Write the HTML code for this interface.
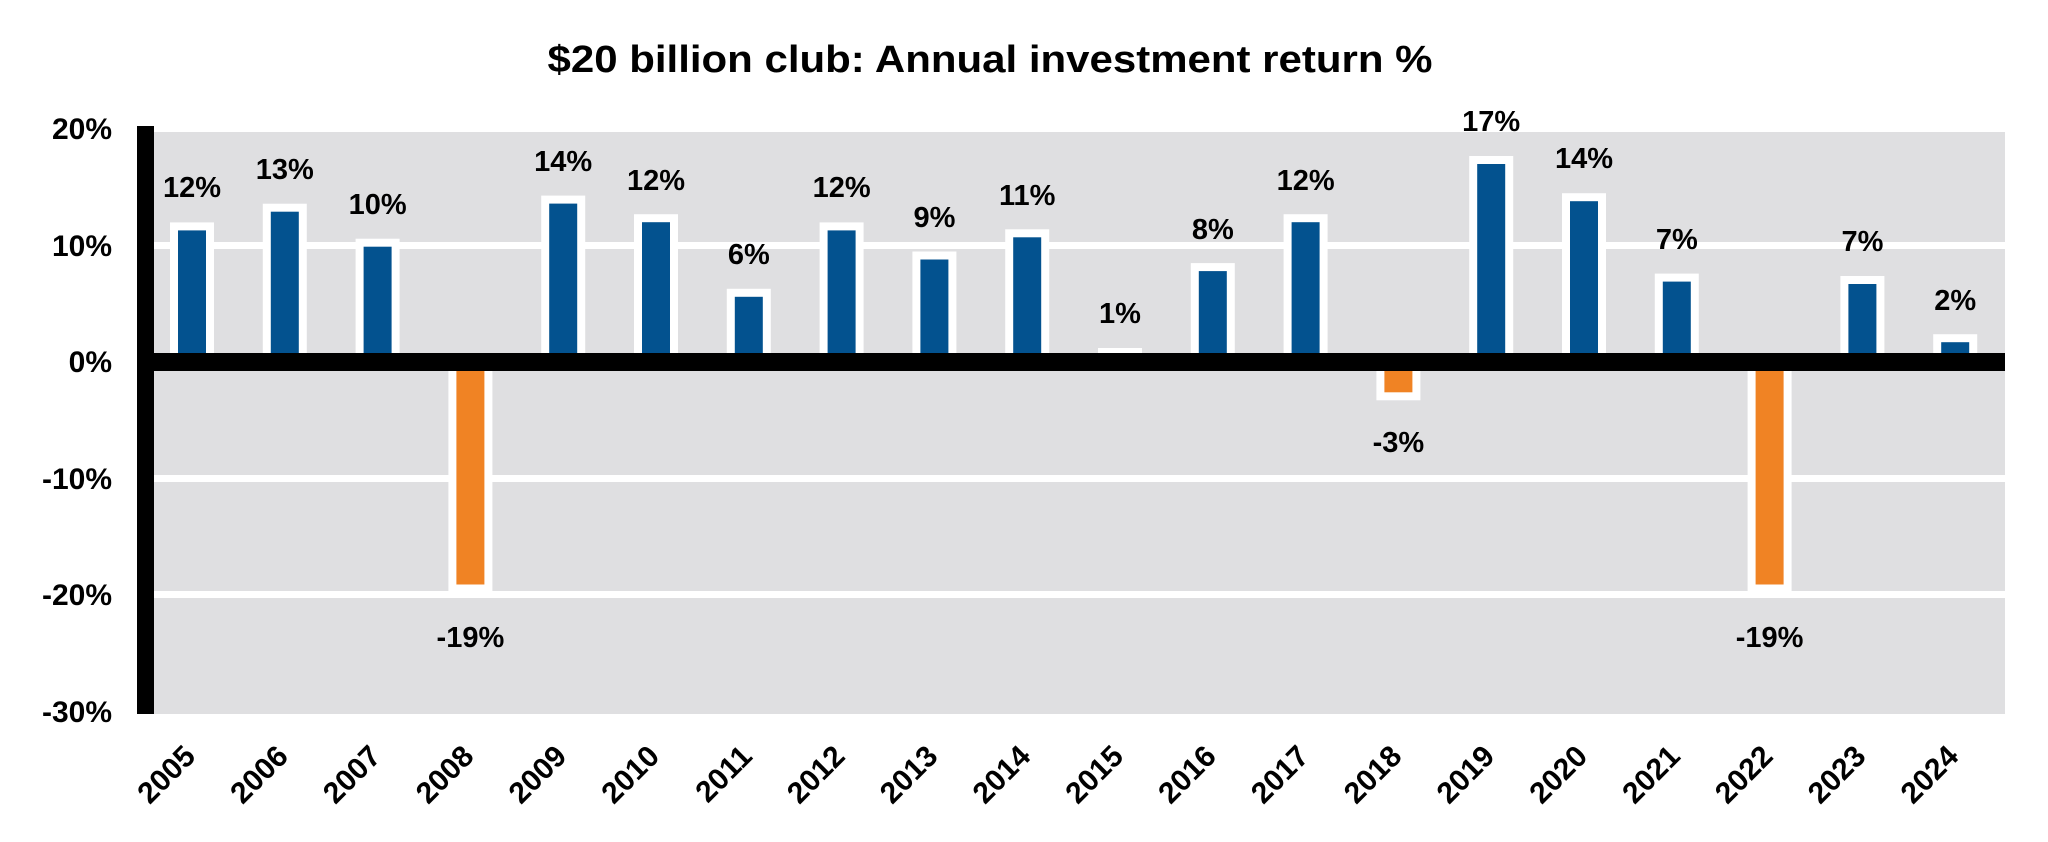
<!DOCTYPE html>
<html><head><meta charset="utf-8"><style>html,body{margin:0;padding:0;background:#fff}svg{display:block}</style></head><body>
<svg width="2048" height="842" viewBox="0 0 2048 842" xmlns="http://www.w3.org/2000/svg" font-family="Liberation Sans, Arial, sans-serif" font-weight="bold">
<text x="990" y="72" text-anchor="middle" font-size="38" textLength="885" lengthAdjust="spacingAndGlyphs" fill="#000">$20 billion club: Annual investment return %</text>
<rect x="154" y="130" width="1851" height="584" fill="#dfdfe1"/>
<g fill="#fff">
<rect x="154" y="126" width="1851" height="6"/>
<rect x="154" y="242" width="1851" height="7"/>
<rect x="154" y="475" width="1851" height="7"/>
<rect x="154" y="591" width="1851" height="7"/>
</g>
<g fill="#fff">
<rect x="170" y="222.4" width="44" height="140"/>
<rect x="262.8" y="203.7" width="44" height="159"/>
<rect x="355.6" y="238.7" width="44" height="124"/>
<rect x="541.2" y="195.6" width="44" height="167"/>
<rect x="634" y="214.2" width="44" height="148"/>
<rect x="726.8" y="288.8" width="44" height="74"/>
<rect x="819.6" y="222.4" width="44" height="140"/>
<rect x="912.4" y="251.5" width="44" height="111"/>
<rect x="1005.2" y="229.3" width="44" height="133"/>
<rect x="1098" y="348" width="44" height="14"/>
<rect x="1190.8" y="263.1" width="44" height="99"/>
<rect x="1283.6" y="214.2" width="44" height="148"/>
<rect x="1469.2" y="156" width="44" height="206"/>
<rect x="1562" y="193.2" width="44" height="169"/>
<rect x="1654.8" y="273.6" width="44" height="89"/>
<rect x="1840.4" y="276" width="44" height="86"/>
<rect x="1933.2" y="334.2" width="44" height="28"/>
<rect x="448.4" y="362" width="44" height="230.5"/>
<rect x="1376.4" y="362" width="44" height="38.3"/>
<rect x="1747.6" y="362" width="44" height="230.5"/>
</g>
<g fill="#03528f">
<rect x="178" y="230.4" width="28" height="132"/>
<rect x="270.8" y="211.7" width="28" height="151"/>
<rect x="363.6" y="246.7" width="28" height="116"/>
<rect x="549.2" y="203.6" width="28" height="159"/>
<rect x="642" y="222.2" width="28" height="140"/>
<rect x="734.8" y="296.8" width="28" height="66"/>
<rect x="827.6" y="230.4" width="28" height="132"/>
<rect x="920.4" y="259.5" width="28" height="103"/>
<rect x="1013.2" y="237.3" width="28" height="125"/>
<rect x="1198.8" y="271.1" width="28" height="91"/>
<rect x="1291.6" y="222.2" width="28" height="140"/>
<rect x="1477.2" y="164" width="28" height="198"/>
<rect x="1570" y="201.2" width="28" height="161"/>
<rect x="1662.8" y="281.6" width="28" height="81"/>
<rect x="1848.4" y="284" width="28" height="78"/>
<rect x="1941.2" y="342.2" width="28" height="20"/>
</g>
<g fill="#f08324">
<rect x="456.4" y="362" width="28" height="222.5"/>
<rect x="1384.4" y="362" width="28" height="30.3"/>
<rect x="1755.6" y="362" width="28" height="222.5"/>
</g>
<rect x="154" y="353" width="1851" height="18" fill="#000"/>
<rect x="137" y="126" width="17" height="588" fill="#000"/>
<g font-size="29" text-anchor="middle" fill="#000">
<text x="192" y="197">12%</text>
<text x="284.8" y="179">13%</text>
<text x="377.6" y="214">10%</text>
<text x="470.4" y="647">-19%</text>
<text x="563.2" y="171">14%</text>
<text x="656" y="190">12%</text>
<text x="748.8" y="264">6%</text>
<text x="841.6" y="197">12%</text>
<text x="934.4" y="227">9%</text>
<text x="1027.2" y="205">11%</text>
<text x="1120" y="323">1%</text>
<text x="1212.8" y="239">8%</text>
<text x="1305.6" y="190">12%</text>
<text x="1398.4" y="452">-3%</text>
<text x="1491.2" y="131">17%</text>
<text x="1584" y="168">14%</text>
<text x="1676.8" y="249">7%</text>
<text x="1769.6" y="647">-19%</text>
<text x="1862.4" y="251">7%</text>
<text x="1955.2" y="310">2%</text>
</g>
<g font-size="30" text-anchor="end" fill="#000">
<text x="112" y="139">20%</text>
<text x="112" y="256">10%</text>
<text x="112" y="372">0%</text>
<text x="112" y="489">-10%</text>
<text x="112" y="605">-20%</text>
<text x="112" y="722">-30%</text>
</g>
<g font-size="30" text-anchor="end" fill="#000">
<text transform="translate(197,758) rotate(-45)">2005</text>
<text transform="translate(289.8,758) rotate(-45)">2006</text>
<text transform="translate(382.6,758) rotate(-45)">2007</text>
<text transform="translate(475.4,758) rotate(-45)">2008</text>
<text transform="translate(568.2,758) rotate(-45)">2009</text>
<text transform="translate(661,758) rotate(-45)">2010</text>
<text transform="translate(753.8,758) rotate(-45)">2011</text>
<text transform="translate(846.6,758) rotate(-45)">2012</text>
<text transform="translate(939.4,758) rotate(-45)">2013</text>
<text transform="translate(1032.2,758) rotate(-45)">2014</text>
<text transform="translate(1125,758) rotate(-45)">2015</text>
<text transform="translate(1217.8,758) rotate(-45)">2016</text>
<text transform="translate(1310.6,758) rotate(-45)">2017</text>
<text transform="translate(1403.4,758) rotate(-45)">2018</text>
<text transform="translate(1496.2,758) rotate(-45)">2019</text>
<text transform="translate(1589,758) rotate(-45)">2020</text>
<text transform="translate(1681.8,758) rotate(-45)">2021</text>
<text transform="translate(1774.6,758) rotate(-45)">2022</text>
<text transform="translate(1867.4,758) rotate(-45)">2023</text>
<text transform="translate(1960.2,758) rotate(-45)">2024</text>
</g>
</svg>
</body></html>
